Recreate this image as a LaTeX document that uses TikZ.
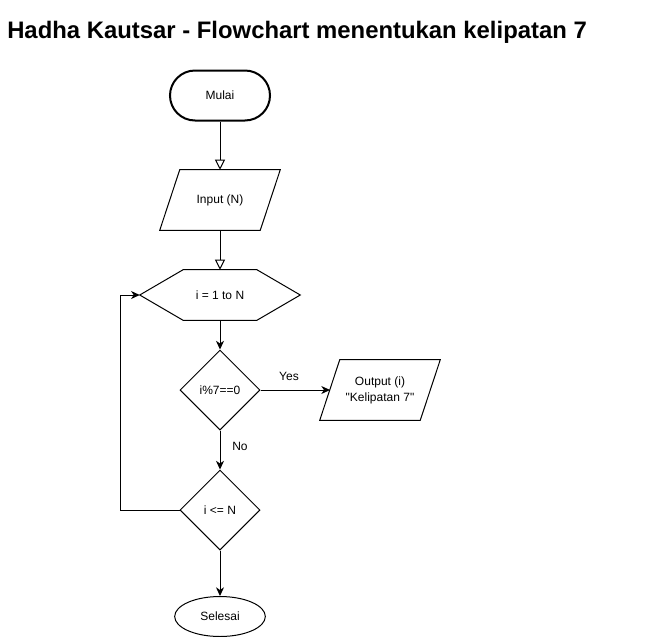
\documentclass[tikz,border=0pt]{standalone}
\usepackage{fontspec}
\setmainfont{Liberation Sans}
\newfontfamily\plainsans{Liberation Sans}
\usetikzlibrary{shapes.geometric,arrows.meta}
\begin{document}
\begin{tikzpicture}[x=0.75pt,y=-0.75pt,
  every node/.style={font=\fontsize{9}{12}\selectfont, inner sep=0pt},
  outline/.style={draw=black, line width=0.75pt, line join=miter},
  openarrow/.style={draw=black, line width=0.75pt, -{Triangle[open, length=7.5pt, width=7.5pt]}},
  fillarrow/.style={draw=black, line width=0.75pt, -{Stealth[length=6.5pt, width=6pt, inset=2pt]}},
  lbl/.style={font=\fontsize{9}{12}\selectfont}
]
\useasboundingbox (0,0) rectangle (671,636);
\fill[white] (0,0) rectangle (671,636);

% title
\node[anchor=base west, font=\bfseries\fontsize{17.9}{21}\selectfont] (title) at (7,38) {Hadha Kautsar - Flowchart menentukan kelipatan 7};

% Mulai
\node[draw=black, line width=1.5pt, rectangle, rounded corners=18.75pt, minimum width=75pt, minimum height=37.5pt] (mulai) at (220,95.5) {Mulai};

% Input
\node[rectangle, minimum width=90pt, minimum height=45pt] (input) at (220,200) {Input (N)};
\draw[outline] ([xshift=15pt]input.north west) -- (input.north east) -- ([xshift=-15pt]input.south east) -- (input.south west) -- cycle;

% Hexagon
\node[rectangle, minimum width=120pt, minimum height=37.5pt] (hex) at (220,295) {i = 1 to N};
\draw[outline] (hex.west) -- ([xshift=32.5pt]hex.north west) -- ([xshift=-32.5pt]hex.north east) -- (hex.east) -- ([xshift=-32.5pt]hex.south east) -- ([xshift=32.5pt]hex.south west) -- cycle;

% Decision 1
\node[diamond, draw=black, line width=0.75pt, minimum width=60pt, minimum height=60pt, aspect=1] (d1) at (220,390) {i\%7==0};

% Output
\node[rectangle, minimum width=90pt, minimum height=45pt, align=center, font=\plainsans\fontsize{9}{12}\selectfont] (out) at (380,390) {Output (i)\\"Kelipatan 7"};
\draw[outline] ([xshift=15pt]out.north west) -- (out.north east) -- ([xshift=-15pt]out.south east) -- (out.south west) -- cycle;
\coordinate (outin) at (330,390);

% Decision 2
\node[diamond, draw=black, line width=0.75pt, minimum width=60pt, minimum height=60pt, aspect=1] (d2) at (220,510) {i <= N};

% Selesai
\node[ellipse, draw=black, line width=0.75pt, minimum width=68pt, minimum height=30pt] (sel) at (220,616.5) {Selesai};

% connectors
\draw[openarrow] (mulai.south) -- (input.north);
\draw[openarrow] (input.south) -- (hex.north);
\draw[fillarrow] (hex.south) -- (d1.north);
\draw[fillarrow] (d1.east) -- (outin);
\draw[fillarrow] (d1.south) -- (d2.north);
\draw[fillarrow] (d2.south) -- (sel.north);
\coordinate (lb) at (120,510);
\coordinate (lt) at (120,295);
\draw[fillarrow] (d2.west) -- (lb) -- (lt) -- (hex.west);

% labels
\node[lbl] (yes) at (289,376) {Yes};
\node[lbl] (no) at (240,446) {No};
\end{tikzpicture}
\end{document}
